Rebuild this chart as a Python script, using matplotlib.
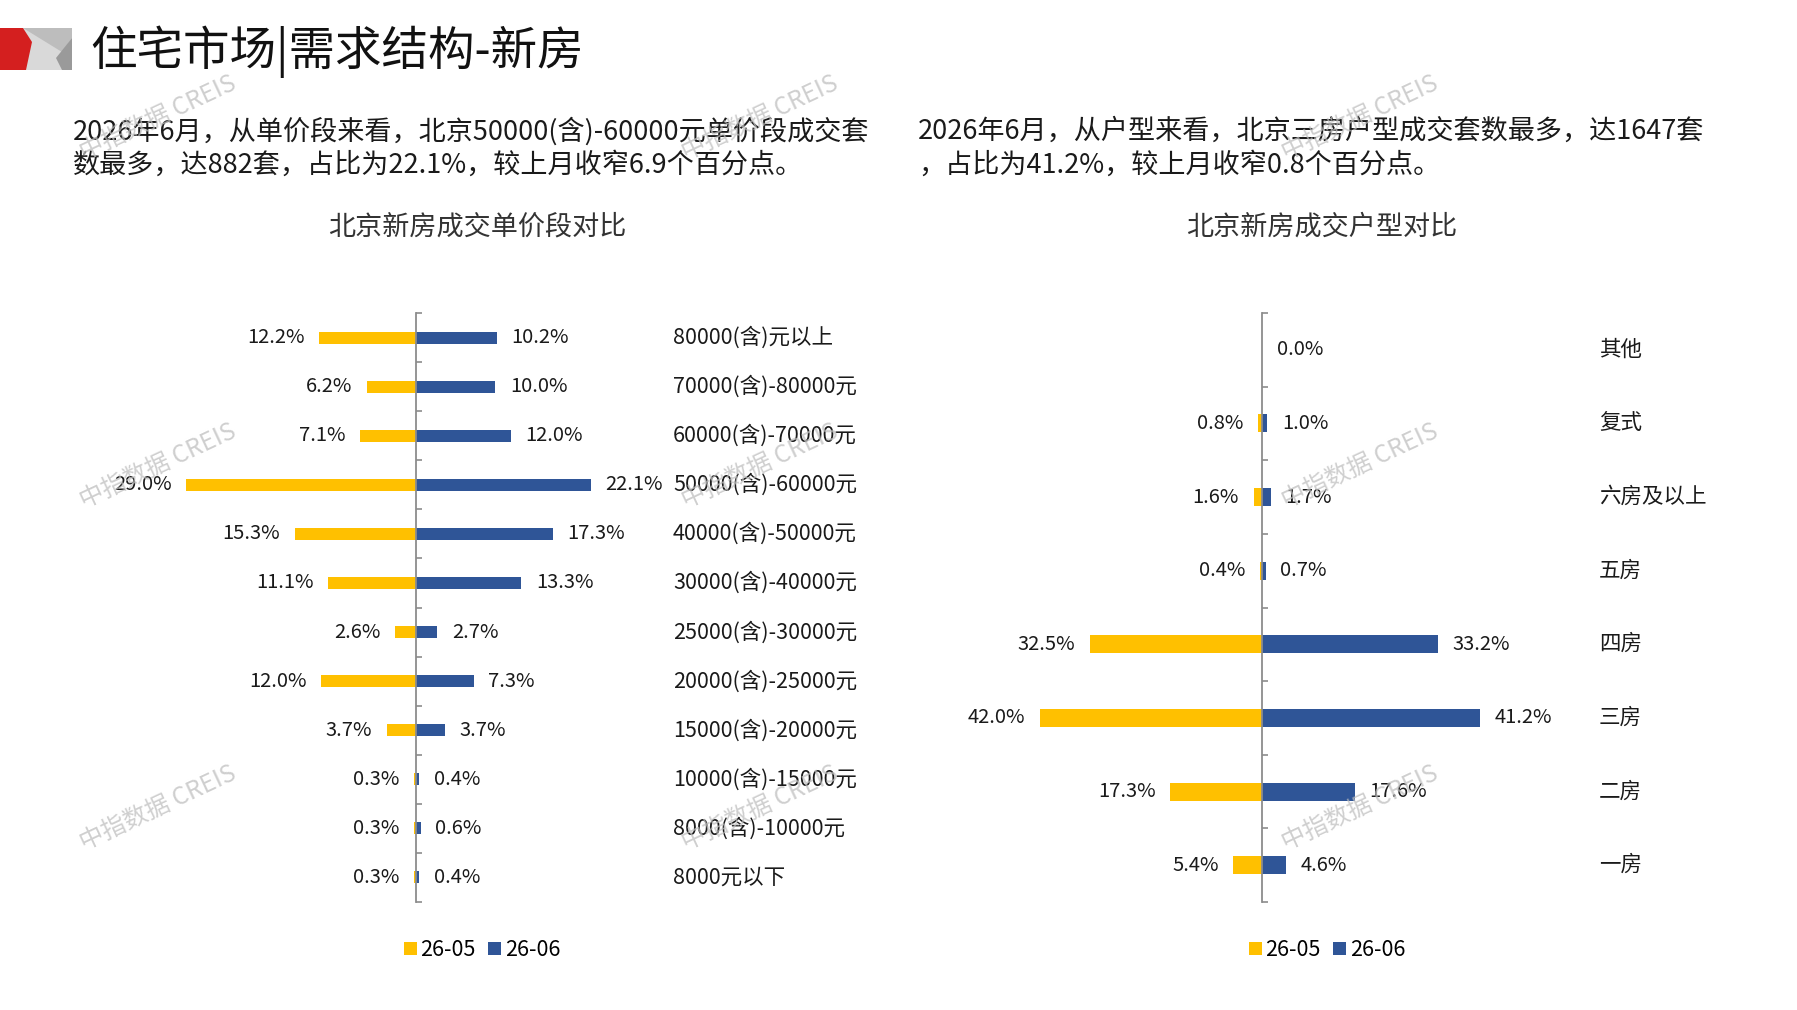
import matplotlib
matplotlib.use("Agg")
import matplotlib.pyplot as plt
import numpy as np
from matplotlib.patches import Polygon, Rectangle
from matplotlib.transforms import blended_transform_factory

plt.rcParams['font.family'] = ['Noto Sans CJK SC', 'DejaVu Sans']

# ---------------- data ----------------
price_cats = ["80000(含)元以上", "70000(含)-80000元", "60000(含)-70000元", "50000(含)-60000元",
              "40000(含)-50000元", "30000(含)-40000元", "25000(含)-30000元", "20000(含)-25000元",
              "15000(含)-20000元", "10000(含)-15000元", "8000(含)-10000元", "8000元以下"]
price_may = [12.2, 6.2, 7.1, 29.0, 15.3, 11.1, 2.6, 12.0, 3.7, 0.3, 0.3, 0.3]
price_jun = [10.2, 10.0, 12.0, 22.1, 17.3, 13.3, 2.7, 7.3, 3.7, 0.4, 0.6, 0.4]

room_cats = ["其他", "复式", "六房及以上", "五房", "四房", "三房", "二房", "一房"]
room_may = [0.0, 0.8, 1.6, 0.4, 32.5, 42.0, 17.3, 5.4]
room_jun = [0.0, 1.0, 1.7, 0.7, 33.2, 41.2, 17.6, 4.6]

series_names = ["26-05", "26-06"]
title = "住宅市场|需求结构-新房"
left_text = ["2026年6月，从单价段来看，北京50000(含)-60000元单价段成交套",
             "数最多，达882套，占比为22.1%，较上月收窄6.9个百分点。"]
right_text = ["2026年6月，从户型来看，北京三房户型成交套数最多，达1647套",
              "，占比为41.2%，较上月收窄0.8个百分点。"]
chart_titles = ["北京新房成交单价段对比", "北京新房成交户型对比"]
watermark = "中指数据 CREIS"

# ---------------- styling ----------------
W, H = 1797, 1010
YEL = "#FFC000"
BLU = "#2F5597"
AX_COL = "#8C8C8C"
fig = plt.figure(figsize=(W / 100, H / 100), dpi=100)

Y_TOP, Y_BOT = 313, 902


def px_rect(x0, y0, x1, y1):
    return [x0 / W, 1 - y1 / H, (x1 - x0) / W, (y1 - y0) / H]


def butterfly(rect, cats, may, jun, xlim, label_x, skip_zero_may=True):
    ax = fig.add_axes(rect)
    n = len(cats)
    y = np.arange(n)
    h = 0.245
    ax.barh(y, -np.array(may), height=h, color=YEL, label=series_names[0], zorder=2)
    ax.barh(y, np.array(jun), height=h, color=BLU, label=series_names[1], zorder=2)
    ax.set_xlim(*xlim)
    ax.set_ylim(n - 0.5, -0.5)
    for s in ["top", "right", "bottom"]:
        ax.spines[s].set_visible(False)
    ax.spines["left"].set_position(("data", 0))
    ax.spines["left"].set_color(AX_COL)
    ax.spines["left"].set_linewidth(1.3)
    ax.set_xticks([])
    ax.set_yticks(np.arange(-0.5, n, 1.0))
    ax.tick_params(axis="y", direction="in", length=4, width=1.2, color=AX_COL, labelleft=False)
    ax.patch.set_alpha(0)
    for i in range(n):
        if not (skip_zero_may and may[i] == 0):
            ax.annotate(f"{may[i]:.1f}%", xy=(-may[i], i), xytext=(-10.5, 0),
                        textcoords="offset points", ha="right", va="center", fontsize=14.5, color="#1a1a1a")
        ax.annotate(f"{jun[i]:.1f}%", xy=(jun[i], i), xytext=(10.5, 0),
                    textcoords="offset points", ha="left", va="center", fontsize=14.5, color="#1a1a1a")
    tr = blended_transform_factory(fig.transFigure, ax.transData)
    for i, c in enumerate(cats):
        ax.text(label_x / W, i, c, transform=tr, ha="left", va="center", fontsize=15.5, color="#1a1a1a")
    return ax


# left chart: zero at x=416 px, 7.92 px/unit
axL = butterfly(px_rect(416 - 30 * 7.92, Y_TOP, 416 + 30 * 7.92, Y_BOT), price_cats, price_may, price_jun,
                (-30, 30), 673)
# right chart: zero at x=1262 px, 5.29 px/unit
axR = butterfly(px_rect(1262 - 45 * 5.29, Y_TOP, 1262 + 45 * 5.29, Y_BOT), room_cats, room_may, room_jun,
                (-45, 45), 1599)

for ax, cx in [(axL, 482), (axR, 1327)]:
    fig.legend(*ax.get_legend_handles_labels(), loc="center", bbox_to_anchor=(cx / W, 1 - 950 / H),
               ncol=2, frameon=False, fontsize=15.5, handlelength=0.6, handleheight=0.6,
               handletextpad=0.15, columnspacing=0.6, borderaxespad=0)

# ---------------- overlay: header, texts, watermarks ----------------
ov = fig.add_axes([0, 0, 1, 1], zorder=10)
ov.set_xlim(0, W)
ov.set_ylim(H, 0)
ov.axis("off")
ov.patch.set_alpha(0)

# logo
ov.add_patch(Rectangle((23, 28), 49, 42, color="#D9D9D9", lw=0))
ov.add_patch(Polygon([(23, 28), (72, 28), (72, 38), (62, 52)], closed=True, color="#BDBDBD", lw=0))
ov.add_patch(Polygon([(72, 38), (72, 70), (62, 70), (56, 58)], closed=True, color="#9A9A9A", lw=0))
ov.add_patch(Polygon([(0, 28), (23, 28), (32, 42), (26, 70), (0, 70)], closed=True, color="#D41F1F", lw=0))

ov.text(90, 52, title, fontsize=33.5, ha="left", va="center", color="#111111")

for k, line in enumerate(left_text):
    ov.text(73, 131 + 34 * k, line, fontsize=19.5, ha="left", va="center", color="#1a1a1a")
for k, line in enumerate(right_text):
    ov.text(918, 131 + 34 * k, line, fontsize=19.5, ha="left", va="center", color="#1a1a1a")

ov.text(477, 227, chart_titles[0], fontsize=19.5, ha="center", va="center", color="#333333")
ov.text(1322, 227, chart_titles[1], fontsize=19.5, ha="center", va="center", color="#333333")

for wy in [118, 466, 808]:
    for wx in [158, 760, 1360]:
        ov.text(wx, wy, watermark, fontsize=17.5, ha="center", va="center", rotation=25,
                color="#BFBFBF", alpha=0.75, style="italic", rotation_mode="anchor")

fig.savefig("out.png", dpi=100, facecolor="white")
